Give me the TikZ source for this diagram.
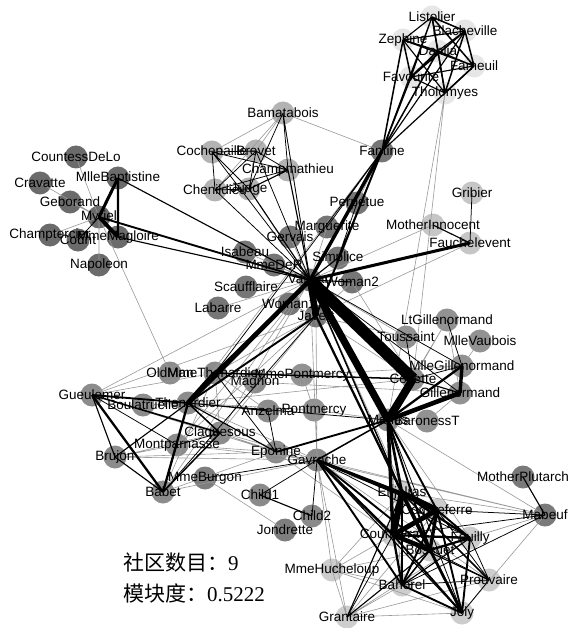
\documentclass[tikz,border=0pt]{standalone}
\usepackage{fontspec}
\setmainfont{Liberation Sans}
\newfontfamily\cjkfont{Noto Sans CJK SC}
\newfontfamily\numfont{Liberation Serif}
\definecolor{gMyriel}{HTML}{6B6B6B}
\definecolor{gValjean}{HTML}{767676}
\definecolor{gFav}{HTML}{E6E6E6}
\definecolor{gTrial}{HTML}{B3B3B3}
\definecolor{gConvent}{HTML}{C6C6C6}
\definecolor{gThen}{HTML}{8C8C8C}
\definecolor{gMarius}{HTML}{929292}
\definecolor{gGav}{HTML}{8A8A8A}
\definecolor{gBurgon}{HTML}{7E7E7E}
\definecolor{gMabeuf}{HTML}{7A7A7A}
\definecolor{gABC}{HTML}{CDCDCD}

\begin{document}
\begin{tikzpicture}[x=1pt, y=-1pt,
  person/.style={circle, inner sep=0pt, minimum size=23pt, draw=none},
  nametag/.style={inner sep=0pt, text=black, font=\fontsize{13.5}{14}\selectfont},
  faint/.style={draw=black!40, line width=0.6pt},
  tie/.style={draw=black, line width=0.38*#1},
  stat/.style={anchor=west, inner sep=0pt, font=\fontsize{21}{24}\selectfont}]

\useasboundingbox[fill=white] (0,0) rectangle (578,628);

% Myriel
\node[person, fill=gMyriel] (Myriel) at (99,217) {};
\node[person, fill=gMyriel] (Napoleon) at (99,265) {};
\node[person, fill=gMyriel] (MlleBaptistine) at (118,178) {};
\node[person, fill=gMyriel] (MmeMagloire) at (118,237) {};
\node[person, fill=gMyriel] (CountessDeLo) at (76,157) {};
\node[person, fill=gMyriel] (Geborand) at (70,202) {};
\node[person, fill=gMyriel] (Champtercier) at (50,235) {};
\node[person, fill=gMyriel] (Cravatte) at (40,183) {};
\node[person, fill=gMyriel] (Count) at (78,240) {};
% Valjean
\node[person, fill=gValjean] (Valjean) at (310,280) {};
\node[person, fill=gValjean] (Javert) at (316,316) {};
\node[person, fill=gValjean] (Fantine) at (382,151) {};
\node[person, fill=gValjean] (Labarre) at (218,308) {};
\node[person, fill=gValjean] (Marguerite) at (327,227) {};
\node[person, fill=gValjean] (MmeDeR) at (274,265) {};
\node[person, fill=gValjean] (Isabeau) at (245,252) {};
\node[person, fill=gValjean] (Gervais) at (290,237) {};
\node[person, fill=gValjean] (Perpetue) at (357,203) {};
\node[person, fill=gValjean] (Simplice) at (338,258) {};
\node[person, fill=gValjean] (Scaufflaire) at (246,287) {};
\node[person, fill=gValjean] (Woman1) at (289,304) {};
\node[person, fill=gValjean] (Woman2) at (352,282) {};
% Tholomyes
\node[person, fill=gFav] (Tholomyes) at (445,93) {};
\node[person, fill=gFav] (Listolier) at (432,17) {};
\node[person, fill=gFav] (Fameuil) at (474,66) {};
\node[person, fill=gFav] (Blacheville) at (465,31) {};
\node[person, fill=gFav] (Favourite) at (411,77) {};
\node[person, fill=gFav] (Dahlia) at (438,51) {};
\node[person, fill=gFav] (Zephine) at (403,40) {};
% trial
\node[person, fill=gTrial] (Bamatabois) at (283,113) {};
\node[person, fill=gTrial] (Judge) at (249,189) {};
\node[person, fill=gTrial] (Champmathieu) at (288,170) {};
\node[person, fill=gTrial] (Brevet) at (256,151) {};
\node[person, fill=gTrial] (Chenildieu) at (215,190) {};
\node[person, fill=gTrial] (Cochepaille) at (212,152) {};
% convent
\node[person, fill=gConvent] (Fauchelevent) at (470,243) {};
\node[person, fill=gConvent] (MotherInnocent) at (433,225) {};
\node[person, fill=gConvent] (Gribier) at (472,193) {};
% Thenardier
\node[person, fill=gThen] (OldMan) at (170,373) {};
\node[person, fill=gThen] (MmeThenardier) at (215,373) {};
\node[person, fill=gThen] (Thenardier) at (188,403) {};
\node[person, fill=gThen] (Boulatruelle) at (143,405) {};
\node[person, fill=gThen] (Eponine) at (276,452) {};
\node[person, fill=gThen] (Anzelma) at (268,411) {};
\node[person, fill=gThen] (Magnon) at (255,382) {};
\node[person, fill=gThen] (Gueulemer) at (92,395) {};
\node[person, fill=gThen] (Babet) at (163,492) {};
\node[person, fill=gThen] (Claquesous) at (220,433) {};
\node[person, fill=gThen] (Montparnasse) at (177,445) {};
\node[person, fill=gThen] (Brujon) at (115,457) {};
% Marius
\node[person, fill=gMarius] (Marius) at (388,420) {};
\node[person, fill=gMarius] (Cosette) at (413,379) {};
\node[person, fill=gMarius] (Gillenormand) at (460,393) {};
\node[person, fill=gMarius] (MlleGillenormand) at (462,366) {};
\node[person, fill=gMarius] (LtGillenormand) at (447,320) {};
\node[person, fill=gMarius] (MlleVaubois) at (480,341) {};
\node[person, fill=gMarius] (BaronessT) at (427,421) {};
\node[person, fill=gMarius] (Toussaint) at (406,337) {};
\node[person, fill=gMarius] (Pontmercy) at (314,410) {};
\node[person, fill=gMarius] (MmePontmercy) at (302,375) {};
% Gavroche
\node[person, fill=gGav] (Gavroche) at (317,460) {};
\node[person, fill=gGav] (Child1) at (260,495) {};
\node[person, fill=gGav] (Child2) at (312,516) {};
\node[person, fill=gBurgon] (MmeBurgon) at (205,478) {};
\node[person, fill=gBurgon] (Jondrette) at (285,530) {};
% Mabeuf
\node[person, fill=gMabeuf] (Mabeuf) at (545,515) {};
\node[person, fill=gMabeuf] (MotherPlutarch) at (523,477) {};
% ABC
\node[person, fill=gABC] (Enjolras) at (402,493) {};
\node[person, fill=gABC] (Combeferre) at (437,510) {};
\node[person, fill=gABC] (Prouvaire) at (489,580) {};
\node[person, fill=gABC] (Feuilly) at (470,538) {};
\node[person, fill=gABC] (Courfeyrac) at (393,535) {};
\node[person, fill=gABC] (Bahorel) at (402,585) {};
\node[person, fill=gABC] (Bossuet) at (430,550) {};
\node[person, fill=gABC] (Joly) at (462,613) {};
\node[person, fill=gABC] (Grantaire) at (347,617) {};
\node[person, fill=gABC] (MmeHucheloup) at (332,570) {};

% weight 1
\draw[faint] (Napoleon.center) -- (Myriel.center) (CountessDeLo.center) -- (Myriel.center)
  (Geborand.center) -- (Myriel.center) (Champtercier.center) -- (Myriel.center)
  (Cravatte.center) -- (Myriel.center) (OldMan.center) -- (Myriel.center)
  (Valjean.center) -- (Labarre.center) (Marguerite.center) -- (Valjean.center)
  (MmeDeR.center) -- (Valjean.center) (Isabeau.center) -- (Valjean.center)
  (Gervais.center) -- (Valjean.center) (Thenardier.center) -- (Fantine.center)
  (Cosette.center) -- (Tholomyes.center) (Cosette.center) -- (Thenardier.center)
  (Javert.center) -- (MmeThenardier.center) (Javert.center) -- (Cosette.center)
  (Fauchelevent.center) -- (Javert.center) (Bamatabois.center) -- (Fantine.center)
  (Bamatabois.center) -- (Javert.center) (Perpetue.center) -- (Fantine.center)
  (Simplice.center) -- (Javert.center) (Scaufflaire.center) -- (Valjean.center)
  (Woman1.center) -- (Javert.center) (Brevet.center) -- (Bamatabois.center)
  (Chenildieu.center) -- (Bamatabois.center) (Cochepaille.center) -- (Bamatabois.center)
  (Pontmercy.center) -- (Thenardier.center) (Boulatruelle.center) -- (Thenardier.center)
  (Anzelma.center) -- (MmeThenardier.center) (Woman2.center) -- (Cosette.center)
  (Woman2.center) -- (Javert.center) (MotherInnocent.center) -- (Valjean.center)
  (MmeBurgon.center) -- (Jondrette.center) (Gavroche.center) -- (Thenardier.center)
  (Gavroche.center) -- (Javert.center) (Gavroche.center) -- (Valjean.center)
  (Magnon.center) -- (Gillenormand.center) (Magnon.center) -- (MmeThenardier.center)
  (MmePontmercy.center) -- (MlleGillenormand.center) (MmePontmercy.center) -- (Pontmercy.center)
  (MlleVaubois.center) -- (MlleGillenormand.center) (LtGillenormand.center) -- (Gillenormand.center)
  (LtGillenormand.center) -- (Cosette.center) (Marius.center) -- (Pontmercy.center)
  (Marius.center) -- (LtGillenormand.center) (Marius.center) -- (Tholomyes.center)
  (BaronessT.center) -- (Gillenormand.center) (BaronessT.center) -- (Marius.center)
  (Mabeuf.center) -- (Marius.center) (Mabeuf.center) -- (Eponine.center)
  (Mabeuf.center) -- (Gavroche.center) (Enjolras.center) -- (Mabeuf.center)
  (Prouvaire.center) -- (Gavroche.center) (Feuilly.center) -- (Mabeuf.center)
  (Feuilly.center) -- (Marius.center) (Courfeyrac.center) -- (Eponine.center)
  (Bahorel.center) -- (Marius.center) (Bossuet.center) -- (Mabeuf.center)
  (Bossuet.center) -- (Valjean.center) (Joly.center) -- (Mabeuf.center)
  (Grantaire.center) -- (Combeferre.center) (Grantaire.center) -- (Joly.center)
  (Grantaire.center) -- (Gavroche.center) (Grantaire.center) -- (Bahorel.center)
  (Grantaire.center) -- (Feuilly.center) (Grantaire.center) -- (Prouvaire.center)
  (Gueulemer.center) -- (Valjean.center) (Gueulemer.center) -- (MmeThenardier.center)
  (Gueulemer.center) -- (Javert.center) (Gueulemer.center) -- (Gavroche.center)
  (Gueulemer.center) -- (Eponine.center) (Babet.center) -- (Valjean.center)
  (Babet.center) -- (MmeThenardier.center) (Babet.center) -- (Gavroche.center)
  (Babet.center) -- (Eponine.center) (Claquesous.center) -- (Valjean.center)
  (Claquesous.center) -- (MmeThenardier.center) (Claquesous.center) -- (Javert.center)
  (Claquesous.center) -- (Eponine.center) (Claquesous.center) -- (Enjolras.center)
  (Montparnasse.center) -- (Javert.center) (Montparnasse.center) -- (Valjean.center)
  (Montparnasse.center) -- (Gavroche.center) (Montparnasse.center) -- (Eponine.center)
  (Montparnasse.center) -- (Thenardier.center) (Toussaint.center) -- (Javert.center)
  (Toussaint.center) -- (Valjean.center) (Brujon.center) -- (Gavroche.center)
  (Brujon.center) -- (Eponine.center) (Brujon.center) -- (Claquesous.center)
  (Brujon.center) -- (Montparnasse.center) (MmeHucheloup.center) -- (Bossuet.center)
  (MmeHucheloup.center) -- (Joly.center) (MmeHucheloup.center) -- (Grantaire.center)
  (MmeHucheloup.center) -- (Bahorel.center) (MmeHucheloup.center) -- (Courfeyrac.center)
  (MmeHucheloup.center) -- (Gavroche.center) (MmeHucheloup.center) -- (Enjolras.center);
% weight 2
\draw[tie=2] (Count.center) -- (Myriel.center) (Fantine.center) -- (Marguerite.center)
  (MmeThenardier.center) -- (Fantine.center) (Bamatabois.center) -- (Valjean.center)
  (Simplice.center) -- (Perpetue.center) (Simplice.center) -- (Fantine.center)
  (Woman1.center) -- (Valjean.center) (Judge.center) -- (Bamatabois.center)
  (Champmathieu.center) -- (Bamatabois.center) (Brevet.center) -- (Judge.center)
  (Brevet.center) -- (Champmathieu.center) (Brevet.center) -- (Valjean.center)
  (Chenildieu.center) -- (Judge.center) (Chenildieu.center) -- (Champmathieu.center)
  (Chenildieu.center) -- (Brevet.center) (Chenildieu.center) -- (Valjean.center)
  (Cochepaille.center) -- (Judge.center) (Cochepaille.center) -- (Champmathieu.center)
  (Cochepaille.center) -- (Brevet.center) (Cochepaille.center) -- (Chenildieu.center)
  (Cochepaille.center) -- (Valjean.center) (Eponine.center) -- (MmeThenardier.center)
  (Anzelma.center) -- (Eponine.center) (Anzelma.center) -- (Thenardier.center)
  (Gribier.center) -- (Fauchelevent.center) (Gavroche.center) -- (MmeBurgon.center)
  (Gillenormand.center) -- (Valjean.center) (MlleGillenormand.center) -- (Cosette.center)
  (MlleGillenormand.center) -- (Valjean.center) (LtGillenormand.center) -- (MlleGillenormand.center)
  (Marius.center) -- (Thenardier.center) (Combeferre.center) -- (Mabeuf.center)
  (Prouvaire.center) -- (Combeferre.center) (Feuilly.center) -- (Gavroche.center)
  (Feuilly.center) -- (Prouvaire.center) (Courfeyrac.center) -- (Mabeuf.center)
  (Bahorel.center) -- (Mabeuf.center) (Bahorel.center) -- (Prouvaire.center)
  (Bossuet.center) -- (Prouvaire.center) (Joly.center) -- (Prouvaire.center)
  (Joly.center) -- (Marius.center) (Grantaire.center) -- (Courfeyrac.center)
  (Babet.center) -- (Javert.center) (Montparnasse.center) -- (Babet.center)
  (Montparnasse.center) -- (Gueulemer.center) (Montparnasse.center) -- (Claquesous.center)
  (Toussaint.center) -- (Cosette.center) (Child1.center) -- (Gavroche.center)
  (Child2.center) -- (Gavroche.center);
% weight 3
\draw[tie=3] (Valjean.center) -- (MmeMagloire.center) (Valjean.center) -- (MlleBaptistine.center)
  (Favourite.center) -- (Tholomyes.center) (Favourite.center) -- (Listolier.center)
  (Favourite.center) -- (Fameuil.center) (Dahlia.center) -- (Tholomyes.center)
  (Dahlia.center) -- (Listolier.center) (Dahlia.center) -- (Fameuil.center)
  (Dahlia.center) -- (Blacheville.center) (Zephine.center) -- (Tholomyes.center)
  (Zephine.center) -- (Listolier.center) (Zephine.center) -- (Fameuil.center)
  (Zephine.center) -- (Blacheville.center) (Fantine.center) -- (Tholomyes.center)
  (Fantine.center) -- (Listolier.center) (Fantine.center) -- (Fameuil.center)
  (Fantine.center) -- (Blacheville.center) (Simplice.center) -- (Valjean.center)
  (Judge.center) -- (Valjean.center) (Champmathieu.center) -- (Valjean.center)
  (Champmathieu.center) -- (Judge.center) (Eponine.center) -- (Thenardier.center)
  (Woman2.center) -- (Valjean.center) (MotherInnocent.center) -- (Fauchelevent.center)
  (Gillenormand.center) -- (Cosette.center) (Courfeyrac.center) -- (Prouvaire.center)
  (Bahorel.center) -- (Feuilly.center) (Joly.center) -- (Gavroche.center)
  (Grantaire.center) -- (Bossuet.center) (Grantaire.center) -- (Enjolras.center)
  (MotherPlutarch.center) -- (Mabeuf.center) (Child2.center) -- (Child1.center)
  (Brujon.center) -- (Babet.center) (Brujon.center) -- (Gueulemer.center)
  (Brujon.center) -- (Thenardier.center);
% weight 4
\draw[tie=4] (Listolier.center) -- (Tholomyes.center) (Fameuil.center) -- (Tholomyes.center)
  (Fameuil.center) -- (Listolier.center) (Blacheville.center) -- (Tholomyes.center)
  (Blacheville.center) -- (Listolier.center) (Blacheville.center) -- (Fameuil.center)
  (Favourite.center) -- (Blacheville.center) (Zephine.center) -- (Favourite.center)
  (Zephine.center) -- (Dahlia.center) (Fantine.center) -- (Favourite.center)
  (Fantine.center) -- (Dahlia.center) (Fantine.center) -- (Zephine.center)
  (Cosette.center) -- (MmeThenardier.center) (Marius.center) -- (Gavroche.center)
  (Prouvaire.center) -- (Enjolras.center) (Bahorel.center) -- (Enjolras.center)
  (Bossuet.center) -- (Bahorel.center) (Claquesous.center) -- (Thenardier.center)
  (Claquesous.center) -- (Babet.center) (Claquesous.center) -- (Gueulemer.center)
  (Enjolras.center) -- (Valjean.center);
% weight 5
\draw[tie=5] (Valjean.center) -- (Myriel.center) (Dahlia.center) -- (Favourite.center)
  (Javert.center) -- (Fantine.center) (Javert.center) -- (Thenardier.center)
  (Marius.center) -- (Eponine.center) (Combeferre.center) -- (Marius.center)
  (Feuilly.center) -- (Combeferre.center) (Bahorel.center) -- (Combeferre.center)
  (Bahorel.center) -- (Gavroche.center) (Bossuet.center) -- (Marius.center)
  (Bossuet.center) -- (Gavroche.center) (Joly.center) -- (Bahorel.center)
  (Joly.center) -- (Courfeyrac.center) (Joly.center) -- (Enjolras.center)
  (Joly.center) -- (Feuilly.center) (Joly.center) -- (Combeferre.center)
  (Gueulemer.center) -- (Thenardier.center);
% weight 6 and 7
\draw[tie=6] (MmeMagloire.center) -- (MlleBaptistine.center) (Marius.center) -- (MlleGillenormand.center)
  (Enjolras.center) -- (Javert.center) (Combeferre.center) -- (Gavroche.center)
  (Feuilly.center) -- (Enjolras.center) (Courfeyrac.center) -- (Feuilly.center)
  (Bahorel.center) -- (Courfeyrac.center) (Bossuet.center) -- (Feuilly.center)
  (Babet.center) -- (Thenardier.center) (Babet.center) -- (Gueulemer.center);
\draw[tie=7] (MmeThenardier.center) -- (Valjean.center) (Enjolras.center) -- (Marius.center)
  (Enjolras.center) -- (Gavroche.center) (Courfeyrac.center) -- (Gavroche.center)
  (Joly.center) -- (Bossuet.center);
% heavy ties
\draw[tie=8] (MlleBaptistine.center) -- (Myriel.center) (Fauchelevent.center) -- (Valjean.center);
\draw[tie=9] (Fantine.center) -- (Valjean.center) (MlleGillenormand.center) -- (Gillenormand.center)
  (Courfeyrac.center) -- (Marius.center) (Bossuet.center) -- (Combeferre.center);
\draw[tie=10] (MmeMagloire.center) -- (Myriel.center) (Bossuet.center) -- (Enjolras.center);
\draw[tie=12] (Thenardier.center) -- (Valjean.center) (Marius.center) -- (Gillenormand.center)
  (Bossuet.center) -- (Courfeyrac.center);
\draw[tie=13] (Thenardier.center) -- (MmeThenardier.center) (Courfeyrac.center) -- (Combeferre.center);
\draw[tie=15] (Combeferre.center) -- (Enjolras.center);
\draw[tie=17] (Javert.center) -- (Valjean.center) (Courfeyrac.center) -- (Enjolras.center);
\draw[tie=19] (Marius.center) -- (Valjean.center);
\draw[tie=21] (Marius.center) -- (Cosette.center);
\draw[tie=31] (Cosette.center) -- (Valjean.center);

% labels
\foreach \who in {Myriel, Napoleon, MlleBaptistine, MmeMagloire, CountessDeLo, Geborand,
    Champtercier, Cravatte, Count, OldMan, Labarre, Valjean, Marguerite, MmeDeR, Isabeau,
    Gervais, Tholomyes, Listolier, Fameuil, Blacheville, Favourite, Dahlia, Zephine, Fantine,
    MmeThenardier, Thenardier, Cosette, Javert, Fauchelevent, Bamatabois, Perpetue, Simplice,
    Scaufflaire, Woman1, Judge, Champmathieu, Brevet, Chenildieu, Cochepaille, Pontmercy,
    Boulatruelle, Eponine, Anzelma, Woman2, MotherInnocent, Gribier, Jondrette, MmeBurgon,
    Gavroche, Gillenormand, Magnon, MlleGillenormand, MmePontmercy, MlleVaubois,
    LtGillenormand, Marius, BaronessT, Mabeuf, Enjolras, Combeferre, Prouvaire, Feuilly,
    Courfeyrac, Bahorel, Bossuet, Joly, Grantaire, MotherPlutarch, Gueulemer, Babet,
    Claquesous, Montparnasse, Toussaint, Child1, Child2, Brujon, MmeHucheloup}
  \node[nametag] (\who-tag) at (\who.center) {\who};

% statistics
\node[stat] (ncomm) at (123,563) {{\cjkfont 社区数目：}{\numfont 9}};
\node[stat] (modq) at (123,593) {{\cjkfont 模块度：}{\numfont 0.5222}};

\end{tikzpicture}
\end{document}
